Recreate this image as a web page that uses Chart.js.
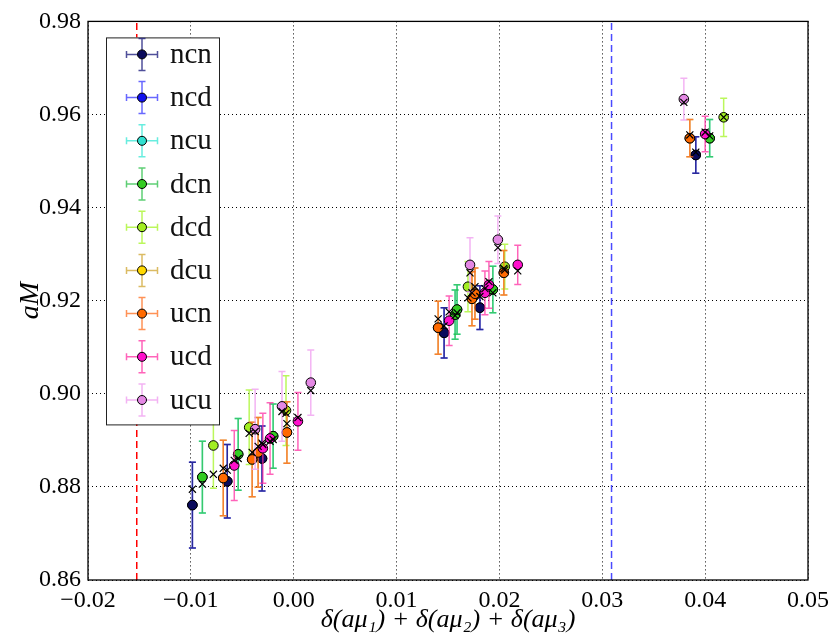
<!DOCTYPE html>
<html lang="en">
<head>
    <meta charset="UTF-8">
    <title>aM vs delta</title>
    <script src="https://cdn.jsdelivr.net/npm/chart.js@4"></script>
    <style>
        html, body { margin: 0; padding: 0; background: #fff; }
    </style>
</head>
<body>
    <canvas id="myChart" width="835" height="641"></canvas>

    <script>
        // series names, legend order
        const seriesNames = ['ncn', 'ncd', 'ncu', 'dcn', 'dcd', 'dcu', 'ucn', 'ucd', 'ucu'];

        const xTicks = [-0.02, -0.01, 0.00, 0.01, 0.02, 0.03, 0.04, 0.05];
        const yTicks = [0.86, 0.88, 0.90, 0.92, 0.94, 0.96, 0.98];

        // dashed reference lines
        const redLineX = -0.01526;
        const blueLineX = 0.0309;

        const ncnX = [-0.00985, -0.00646, -0.00308, 0.01462, 0.01810, 0.03909];
        const ncnY = [0.8761, 0.8812, 0.8861, 0.9131, 0.9185, 0.9513];
        const ncnErr = [0.0092, 0.0079, 0.0070, 0.0054, 0.0047, 0.0039];
        const ncnFit = [0.8795, 0.8836, 0.8894, 0.9146, 0.9209, 0.9519];

        const ncdX = [-0.00985, -0.00646, -0.00308, 0.01462, 0.01810, 0.03909];
        const ncdY = [0.8761, 0.8812, 0.8861, 0.9131, 0.9185, 0.9513];
        const ncdErr = [0.0092, 0.0079, 0.0070, 0.0054, 0.0047, 0.0039];

        const dcnX = [-0.00888, -0.00540, -0.00200, 0.01569, 0.01588, 0.01936, 0.04044];
        const dcnY = [0.8821, 0.8870, 0.8909, 0.9170, 0.9181, 0.9224, 0.9549];
        const dcnErr = [0.0077, 0.0077, 0.0069, 0.0053, 0.0053, 0.0050, 0.0040];
        const dcnFit = [0.8806, 0.8861, 0.8902, 0.9168, 0.9174, 0.9217, 0.9554];

        const ncuX = [-0.00888, -0.00540, -0.00200, 0.01569, 0.01588, 0.01936, 0.04044];
        const ncuY = [0.8821, 0.8870, 0.8909, 0.9170, 0.9181, 0.9224, 0.9549];
        const ncuErr = [0.0077, 0.0077, 0.0069, 0.0053, 0.0053, 0.0050, 0.0040];

        const dcdX = [-0.00781, -0.00433, -0.00075, 0.01694, 0.02052, 0.04180];
        const dcdY = [0.8889, 0.8928, 0.8964, 0.9230, 0.9273, 0.9594];
        const dcdErr = [0.0092, 0.0080, 0.0075, 0.0054, 0.0048, 0.0041];
        const dcdFit = [0.8827, 0.8915, 0.8958, 0.9206, 0.9266, 0.9594];

        const ucnX = [-0.00685, -0.00404, -0.00346, -0.00066, 0.01404, 0.01733, 0.01762, 0.02043, 0.03851];
        const ucnY = [0.8819, 0.8859, 0.8874, 0.8917, 0.9142, 0.9204, 0.9215, 0.9260, 0.9549];
        const ucnErr = [0.0081, 0.0080, 0.0075, 0.0066, 0.0057, 0.0058, 0.0055, 0.0048, 0.0040];
        const ucnFit = [0.8840, 0.8874, 0.8887, 0.8936, 0.9161, 0.9217, 0.9230, 0.9269, 0.9556];

        const dcuX = [-0.00685, -0.00404, -0.00346, -0.00066, 0.01404, 0.01733, 0.01762, 0.02043, 0.03851];
        const dcuY = [0.8819, 0.8859, 0.8874, 0.8917, 0.9142, 0.9204, 0.9215, 0.9260, 0.9549];
        const dcuErr = [0.0081, 0.0080, 0.0075, 0.0066, 0.0057, 0.0058, 0.0055, 0.0048, 0.0040];

        const ucdX = [-0.00578, -0.00300, -0.00230, 0.00041, 0.01511, 0.01859, 0.01898, 0.02178, 0.04000];
        const ucdY = [0.8846, 0.8883, 0.8904, 0.8941, 0.9157, 0.9217, 0.9234, 0.9277, 0.9558];
        const ucdErr = [0.0075, 0.0075, 0.0077, 0.0062, 0.0053, 0.0047, 0.0050, 0.0042, 0.0038];
        const ucdFit = [0.8857, 0.8891, 0.8898, 0.8949, 0.9176, 0.9226, 0.9241, 0.9264, 0.9562];

        const ucuX = [-0.00375, -0.00114, 0.00166, 0.01714, 0.01985, 0.03793];
        const ucuY = [0.8924, 0.8973, 0.9024, 0.9277, 0.9331, 0.9633];
        const ucuErr = [0.0086, 0.0075, 0.0070, 0.0058, 0.0051, 0.0045];
        const ucuFit = [0.8919, 0.8962, 0.9007, 0.9260, 0.9314, 0.9626];

        // marker fill and error bar colour per series
        const markerColors = {
            ncn: '#0a0a5c', ncd: '#1010ee', ncu: '#30e0d0',
            dcn: '#33cc22', dcd: '#a2ee22', dcu: '#ffd800',
            ucn: '#ff6a00', ucd: '#ff10cc', ucu: '#e488e4'
        };
        const barColors = {
            ncn: 'rgba(20,20,120,0.75)', ncd: 'rgba(40,40,255,0.7)', ncu: 'rgba(40,230,210,0.7)',
            dcn: 'rgba(40,190,70,0.75)', dcd: 'rgba(170,245,50,0.8)', dcu: 'rgba(210,170,60,0.8)',
            ucn: 'rgba(255,110,30,0.75)', ucd: 'rgba(255,40,160,0.72)', ucu: 'rgba(240,160,240,0.8)'
        };
        // drawing weight: higher is drawn earlier (underneath)
        const drawOrder = { ncd: 9, ncu: 8, dcu: 7, ncn: 6, dcn: 5, dcd: 4, ucn: 3, ucd: 2, ucu: 1 };

        const seriesData = {
            ncn: [ncnX, ncnY, ncnErr, ncnFit], ncd: [ncdX, ncdY, ncdErr, null],
            ncu: [ncuX, ncuY, ncuErr, null], dcn: [dcnX, dcnY, dcnErr, dcnFit],
            dcd: [dcdX, dcdY, dcdErr, dcdFit], dcu: [dcuX, dcuY, dcuErr, null],
            ucn: [ucnX, ucnY, ucnErr, ucnFit], ucd: [ucdX, ucdY, ucdErr, ucdFit],
            ucu: [ucuX, ucuY, ucuErr, ucuFit]
        };

        const serif = "'Liberation Serif', 'DejaVu Serif', serif";

        function fmt(v) {
            if (Math.abs(v) < 1e-9) v = 0;
            return (v < 0 ? '\u2212' : '') + Math.abs(v).toFixed(2);
        }

        const datasets = [];
        const fitPoints = [];
        seriesNames.forEach(name => {
            const [xs, ys, errs, fits] = seriesData[name];
            datasets.push({
                type: 'scatter',
                label: name,
                data: xs.map((x, i) => ({ x: x, y: ys[i] })),
                errors: errs,
                barColor: barColors[name],
                pointRadius: 4.8,
                pointBackgroundColor: markerColors[name],
                pointBorderColor: '#000',
                pointBorderWidth: 1,
                order: drawOrder[name]
            });
            if (fits) xs.forEach((x, i) => fitPoints.push({ x: x, y: fits[i] }));
        });

        datasets.push({
            type: 'scatter',
            label: 'fit',
            data: fitPoints,
            pointStyle: 'crossRot',
            pointRadius: 5,
            pointBorderColor: '#000',
            pointBorderWidth: 1.2,
            order: 0
        });
        datasets.push({
            type: 'line', label: 'red', order: 20,
            data: [{ x: redLineX, y: yTicks[0] }, { x: redLineX, y: yTicks[yTicks.length - 1] }],
            borderColor: '#ff0000', borderWidth: 1.5, borderDash: [7, 4], pointRadius: 0, fill: false
        });
        datasets.push({
            type: 'line', label: 'blue', order: 20,
            data: [{ x: blueLineX, y: yTicks[0] }, { x: blueLineX, y: yTicks[yTicks.length - 1] }],
            borderColor: '#4a4aff', borderWidth: 1.5, borderDash: [7, 4], pointRadius: 0, fill: false
        });

        // vertical error bars, drawn just before each dataset's markers
        const errorBars = {
            id: 'errorBars',
            beforeDatasetDraw(chart, args) {
                const ds = chart.data.datasets[args.index];
                if (!ds.errors) return;
                const ctx = chart.ctx, sx = chart.scales.x, sy = chart.scales.y;
                ctx.save();
                ctx.strokeStyle = ds.barColor;
                ctx.lineWidth = 1.5;
                ds.data.forEach((p, i) => {
                    const px = sx.getPixelForValue(p.x);
                    const top = sy.getPixelForValue(p.y + ds.errors[i]);
                    const bot = sy.getPixelForValue(p.y - ds.errors[i]);
                    ctx.beginPath();
                    ctx.moveTo(px, top); ctx.lineTo(px, bot);
                    ctx.moveTo(px - 3.5, top); ctx.lineTo(px + 3.5, top);
                    ctx.moveTo(px - 3.5, bot); ctx.lineTo(px + 3.5, bot);
                    ctx.stroke();
                });
                ctx.restore();
            }
        };

        // frame around the axes and the boxed legend in the upper left
        const frameAndLegend = {
            id: 'frameAndLegend',
            afterDraw(chart) {
                const ctx = chart.ctx, a = chart.chartArea;
                ctx.save();
                ctx.strokeStyle = '#000';
                ctx.lineWidth = 1.3;
                ctx.strokeRect(a.left, a.top, a.right - a.left, a.bottom - a.top);

                const left = a.left + 18, top = a.top + 16, w = 113, h = 387;
                ctx.fillStyle = '#fff';
                ctx.fillRect(left, top, w, h);
                ctx.lineWidth = 1;
                ctx.strokeStyle = '#222';
                ctx.strokeRect(left + 0.5, top + 0.5, w, h);

                ctx.font = '29px ' + serif;
                ctx.textBaseline = 'middle';
                seriesNames.forEach((name, i) => {
                    const cy = top + 17 + i * 43.2;
                    const cx = left + 36;
                    ctx.strokeStyle = barColors[name];
                    ctx.lineWidth = 1.5;
                    ctx.beginPath();
                    ctx.moveTo(cx - 15.5, cy); ctx.lineTo(cx + 15.5, cy);
                    ctx.moveTo(cx - 15.5, cy - 3.5); ctx.lineTo(cx - 15.5, cy + 3.5);
                    ctx.moveTo(cx + 15.5, cy - 3.5); ctx.lineTo(cx + 15.5, cy + 3.5);
                    ctx.moveTo(cx, cy - 16); ctx.lineTo(cx, cy + 16);
                    ctx.moveTo(cx - 3.5, cy - 16); ctx.lineTo(cx + 3.5, cy - 16);
                    ctx.moveTo(cx - 3.5, cy + 16); ctx.lineTo(cx + 3.5, cy + 16);
                    ctx.stroke();
                    ctx.beginPath();
                    ctx.arc(cx, cy, 4.5, 0, Math.PI * 2);
                    ctx.fillStyle = markerColors[name];
                    ctx.fill();
                    ctx.strokeStyle = '#000';
                    ctx.lineWidth = 1;
                    ctx.stroke();
                    ctx.fillStyle = '#111';
                    ctx.fillText(name, left + 64, cy + 1);
                });
                ctx.restore();
            }
        };

        const ctx = document.getElementById('myChart').getContext('2d');
        const myChart = new Chart(ctx, {
            data: { datasets: datasets },
            plugins: [errorBars, frameAndLegend],
            options: {
                responsive: false,
                animation: false,
                events: [],
                layout: { padding: { top: 20, right: 23, left: 0, bottom: 0 } },
                plugins: { legend: { display: false }, tooltip: { enabled: false } },
                scales: {
                    x: {
                        type: 'linear',
                        min: xTicks[0],
                        max: xTicks[xTicks.length - 1],
                        afterBuildTicks: s => { s.ticks = xTicks.map(v => ({ value: v })); },
                        afterFit: s => { s.height = 61; },
                        ticks: { font: { family: serif, size: 24 }, color: '#000', padding: 6, maxRotation: 0, autoSkip: false, callback: fmt },
                        grid: { color: '#000', lineWidth: 1, drawTicks: false },
                        border: { display: false, dash: [1, 3] },
                        title: {
                            display: true,
                            text: 'δ(aμ₁) + δ(aμ₂) + δ(aμ₃)',
                            font: { family: serif, size: 26, style: 'italic' },
                            color: '#000',
                            padding: { top: 0, bottom: 5 }
                        }
                    },
                    y: {
                        type: 'linear',
                        min: yTicks[0],
                        max: yTicks[yTicks.length - 1],
                        afterBuildTicks: s => { s.ticks = yTicks.map(v => ({ value: v })); },
                        afterFit: s => { s.width = 88; },
                        ticks: { font: { family: serif, size: 24 }, color: '#000', padding: 7, autoSkip: false, callback: fmt },
                        grid: { color: '#000', lineWidth: 1, drawTicks: false },
                        border: { display: false, dash: [1, 3] },
                        title: {
                            display: true,
                            text: 'aM',
                            font: { family: serif, size: 28, style: 'italic' },
                            color: '#000',
                            padding: { top: 14, bottom: 0 }
                        }
                    }
                }
            }
        });
    </script>
</body>
</html>
